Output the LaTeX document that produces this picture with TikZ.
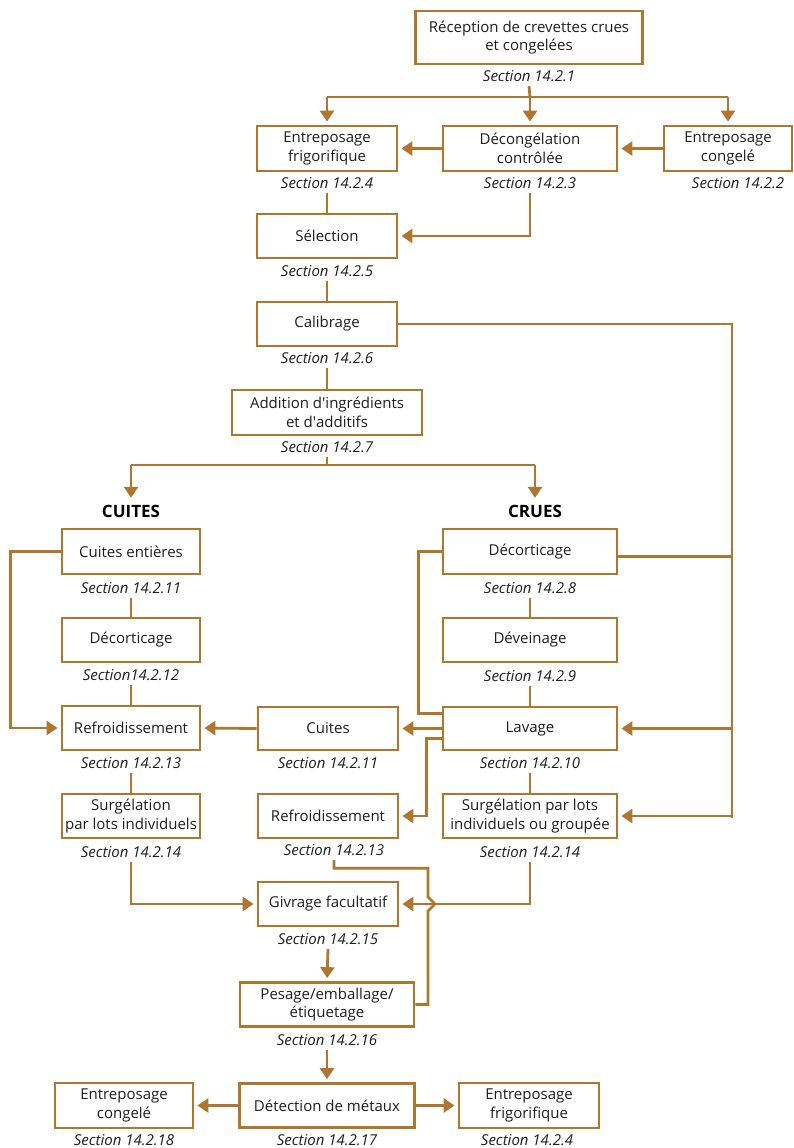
\documentclass[tikz,border=0pt]{standalone}
\usepackage{fontspec}
\setmainfont{Open Sans}
\usetikzlibrary{arrows.meta}
\definecolor{brn}{RGB}{176,118,48}
\definecolor{txt}{RGB}{30,30,30}
\tikzset{
  box/.style={draw=brn, line width=2.8pt, fill=white, align=center, inner sep=0pt,
    text=txt, font=\fontsize{15}{18.5}\selectfont},
  sec/.style={inner sep=0pt, minimum height=20pt, text=txt,
    font=\fontsize{15}{17}\selectfont\itshape},
  head/.style={inner sep=0pt, minimum height=20pt, text=black,
    font=\fontsize{17}{20}\selectfont\bfseries},
  link/.style={draw=brn, line width=2.8pt},
  arr/.style={link, -{Triangle[length=11pt,width=14pt]}, shorten >=3pt},
}
\begin{document}
\begin{tikzpicture}[x=1pt,y=-1pt]
\useasboundingbox (0,0) rectangle (794,1148);

% ---- reception and first branch
\node[box, minimum width=227pt, minimum height=53pt] (rec) at (529,37.5)
  {Réception de crevettes crues\\et congelées};
\node[sec] (s1) at (529,76) {Section 14.2.1};

\node[box, minimum width=140pt, minimum height=45pt] (efr) at (327,148.5)
  {Entreposage\\frigorifique};
\node[sec] (s4) at (327,183) {Section 14.2.4};
\node[box, minimum width=174pt, minimum height=45pt] (dec) at (530,148.5)
  {Décongélation\\contrôlée};
\node[sec] (s3) at (530,183) {Section 14.2.3};
\node[box, minimum width=128pt, minimum height=45pt] (eco) at (728,148.5)
  {Entreposage\\congelé};
\node[sec] (s2) at (738,183) {Section 14.2.2};

\coordinate (br1) at (530,97);
\draw[link] (s1.south) -- (br1);
\draw[link] (efr.north |- br1) -- (eco.north |- br1);
\draw[arr] (efr.north |- br1) -- (efr.north);
\draw[arr] (br1) -- (dec.north);
\draw[arr] (eco.north |- br1) -- (eco.north);
\draw[arr] (eco.west) -- (dec.east);
\draw[arr] (dec.west) -- (efr.east);

% ---- main trunk
\node[box, minimum width=140pt, minimum height=44pt] (sel) at (327,236) {Sélection};
\node[sec] (s5) at (327,271) {Section 14.2.5};
\node[box, minimum width=140pt, minimum height=44pt] (cal) at (327,324) {Calibrage};
\node[sec] (s6) at (327,358) {Section 14.2.6};
\node[box, minimum width=190pt, minimum height=45pt] (add) at (327,412.5)
  {Addition d\textquotesingle ingrédients\\et d\textquotesingle additifs};
\node[sec] (s7) at (327,447) {Section 14.2.7};

\draw[link] (s4.south) -- (sel.north);
\draw[arr] (s3.south) |- (sel.east);
\draw[link] (s5.south) -- (cal.north);
\draw[link] (s6.south) -- (add.north);

% ---- split into cooked / raw
\node[head] (hc) at (131,511) {CUITES};
\node[head] (hr) at (535,511) {CRUES};
\coordinate (br2) at (327,465);
\draw[link] (s7.south) -- (br2);
\draw[link] (hc.north |- br2) -- (hr.north |- br2);
\draw[arr] (hc.north |- br2) -- (hc.north);
\draw[arr] (hr.north |- br2) -- (hr.north);

% ---- cooked column
\node[box, minimum width=138pt, minimum height=45pt] (cue) at (131,551.5) {Cuites entières};
\node[sec] (s11a) at (131,588) {Section 14.2.11};
\node[box, minimum width=138pt, minimum height=44pt] (dcl) at (131,640) {Décorticage};
\node[sec] (s12) at (131,675) {Section14.2.12};
\node[box, minimum width=138pt, minimum height=44pt] (rfl) at (131,728) {Refroidissement};
\node[sec] (s13a) at (131,763) {Section 14.2.13};
\node[box, minimum width=138pt, minimum height=44pt] (sgl) at (131,816)
  {Surgélation\\par lots individuels};
\node[sec] (s14a) at (131,852) {Section 14.2.14};

\draw[link] (s11a.south) -- (dcl.north);
\draw[link] (s12.south) -- (rfl.north);
\draw[link] (s13a.south) -- (sgl.north);
\draw[arr] (cue.west) -- ++(-50,0) |- (rfl.west);

% ---- raw column
\node[box, minimum width=174pt, minimum height=45pt] (dcr) at (530,551.5) {Décorticage};
\node[sec] (s8) at (530,588) {Section 14.2.8};
\node[box, minimum width=174pt, minimum height=44pt] (dev) at (530,640) {Déveinage};
\node[sec] (s9) at (530,676) {Section 14.2.9};
\node[box, minimum width=174pt, minimum height=43pt] (lav) at (530,728.5) {Lavage};
\node[sec] (s10) at (530,763) {Section 14.2.10};
\node[box, minimum width=174pt, minimum height=44pt] (sgr) at (530,816)
  {Surgélation par lots\\individuels ou groupée};
\node[sec] (s14b) at (530,852) {Section 14.2.14};

\draw[link] (s8.south) -- (dev.north);
\draw[link] (s9.south) -- (lav.north);
\draw[link] (s10.south) -- (sgr.north);
\draw[link] (dcr.west) -- ++(-23,0) |- ([yshift=15pt]lav.west);

% ---- bypass from Calibrage on the right
\coordinate (rb) at (732,818);
\draw[link] (cal.east) -| (rb);
\draw[link] ([yshift=-5pt]dcr.east) -- ([yshift=-5pt]dcr.east -| rb);
\draw[arr] (lav.east -| rb) -- (lav.east);
\draw[arr] (sgr.east -| rb) -- (sgr.east);

% ---- middle column
\node[box, minimum width=140pt, minimum height=43pt] (cui) at (328,728.5) {Cuites};
\node[sec] (s11b) at (328,763) {Section 14.2.11};
\node[box, minimum width=140pt, minimum height=44pt] (rfm) at (328,816) {Refroidissement};
\node[sec] (s13b) at (334,850) {Section 14.2.13};

\draw[arr] (lav.west) -- (cui.east);
\draw[arr] (cui.west) -- (rfl.east);
\draw[arr] ([yshift=-10pt]lav.west) -- ++(-15,0) |- (rfm.east);

% ---- finishing
\node[box, minimum width=140pt, minimum height=44pt] (giv) at (328,904) {Givrage facultatif};
\node[sec] (s15) at (328,939) {Section 14.2.15};
\node[box, minimum width=174pt, minimum height=44pt] (pes) at (327,1004.5)
  {Pesage/emballage/\\étiquetage};
\node[sec] (s16) at (327,1040) {Section 14.2.16};
\node[box, minimum width=175pt, minimum height=44pt] (det) at (327,1105.5) {Détection de métaux};
\node[sec] (s17) at (327,1140) {Section 14.2.17};
\node[box, minimum width=138pt, minimum height=45pt] (ecb) at (124,1105.5)
  {Entreposage\\congelé};
\node[sec] (s18) at (124,1140) {Section 14.2.18};
\node[box, minimum width=140pt, minimum height=45pt] (efb) at (529,1105.5)
  {Entreposage\\frigorifique};
\node[sec] (s4b) at (527,1140) {Section 14.2.4};

\draw[arr] (s14a.south) |- (giv.west);
\draw[arr] (s14b.south) |- (giv.east);
\coordinate (hop) at (428,904);
\draw[link] (s13b.south) -- ++(0,8) -| ([yshift=7pt]hop) -- ([xshift=7pt]hop)
  -- ([yshift=-7pt]hop) |- (pes.east);
\draw[arr] (s15.south) -- (pes.north);
\draw[arr] (s16.south) -- (det.north);
\draw[arr] (det.west) -- (ecb.east);
\draw[arr] (det.east) -- (efb.west);
\end{tikzpicture}
\end{document}
